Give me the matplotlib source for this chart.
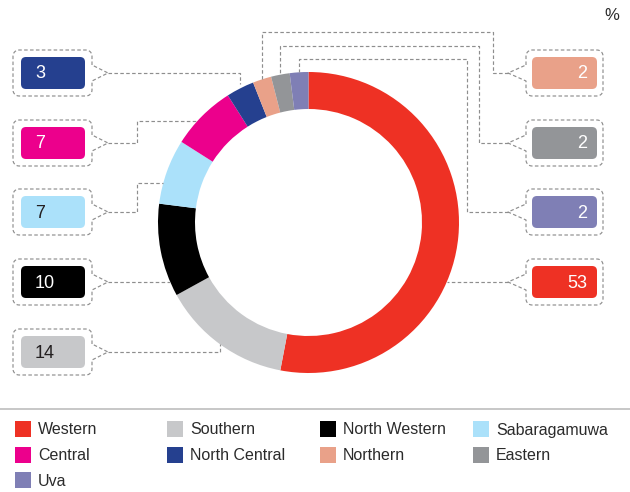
import numpy as np
import matplotlib
matplotlib.use("Agg")
import matplotlib.pyplot as plt
from matplotlib.patches import FancyBboxPatch, Rectangle

plt.rcParams["font.family"] = ["Liberation Sans", "DejaVu Sans"]

# Share by province, %
regions = ["Western", "Southern", "North Western", "Sabaragamuwa", "Central",
           "North Central", "Northern", "Eastern", "Uva"]
shares = [53, 14, 10, 7, 7, 3, 2, 2, 2]
colors = ["#EE3124", "#C7C8CA", "#000000", "#ABE1FA", "#EC008C",
          "#25408F", "#E9A189", "#939598", "#7F7FB5"]
text_colors = ["white", "#231F20", "white", "#231F20", "white",
               "white", "white", "white", "white"]

legend_order = ["Western", "Southern", "North Western", "Sabaragamuwa",
                "Central", "North Central", "Northern", "Eastern", "Uva"]

W, H = 630, 492
CX, CY, R, RING = 308.5, 222.5, 150.5, 37

fig = plt.figure(figsize=(W / 100, H / 100), dpi=100)
ax = fig.add_axes([0, 0, 1, 1])

# y axis runs downward, so counterclock=True turns clockwise on screen
ax.pie(shares, colors=colors, center=(CX, CY), radius=R, startangle=-90,
       counterclock=True, wedgeprops=dict(width=RING, linewidth=0))
ax.set_xlim(0, W)
ax.set_ylim(H, 0)
ax.set_aspect("auto")
ax.axis("off")

# midpoint angle of each wedge, measured clockwise from 12 o'clock
cum = np.cumsum([0] + shares)
mid_deg = (cum[:-1] + cum[1:]) / 2 / sum(shares) * 360


def mid_x(i):
    return CX + R * np.sin(np.radians(mid_deg[i]))


def ring_y(x, top=True):
    d = np.sqrt(R ** 2 - (x - CX) ** 2)
    return CY - d if top else CY + d


def ring_x(y, left=True):
    d = np.sqrt(R ** 2 - (y - CY) ** 2)
    return CX - d if left else CX + d


DASH = dict(color="#8E8E8E", lw=0.85, linestyle=(0, (3, 2)))
TXT = "#2B2B2B"


def callout(y, side, i):
    """Dashed bubble with a pointer plus the coloured value box."""
    if side == "left":
        x0, x1, tip = 13, 92, 108
        bx0, bx1 = 21, 85
    else:
        x0, x1, tip = 526, 603, 508
        bx0, bx1 = 532, 597
    y0, y1, rc = y - 23, y + 23, 6

    def arc(cx, cy, a0, a1):
        t = np.radians(np.linspace(a0, a1, 8))
        return list(zip(cx + rc * np.cos(t), cy + rc * np.sin(t)))

    # screen coords with y downward: angle 90 points down
    if side == "left":
        pts = [(x1, y - 8), (x1, y0 + rc)]
        pts += arc(x1 - rc, y0 + rc, 0, -90)
        pts += arc(x0 + rc, y0 + rc, -90, -180)
        pts += arc(x0 + rc, y1 - rc, 180, 90)
        pts += arc(x1 - rc, y1 - rc, 90, 0)
        pts += [(x1, y + 8), (tip, y), (x1, y - 8)]
    else:
        pts = [(x0, y - 8), (x0, y0 + rc)]
        pts += arc(x0 + rc, y0 + rc, 180, 270)
        pts += arc(x1 - rc, y0 + rc, 270, 360)
        pts += arc(x1 - rc, y1 - rc, 0, 90)
        pts += arc(x0 + rc, y1 - rc, 90, 180)
        pts += [(x0, y + 8), (tip, y), (x0, y - 8)]
    px, py = zip(*pts)
    ax.plot(px, py, **DASH)

    ax.add_patch(FancyBboxPatch((bx0, y - 16), bx1 - bx0, 32,
                                boxstyle="round,pad=0,rounding_size=5",
                                fc=colors[i], ec="none"))
    if side == "left":
        ax.text(35, y + 1, str(shares[i]), ha="left", va="center",
                fontsize=13, color=text_colors[i])
    else:
        ax.text(587, y + 1, str(shares[i]), ha="right", va="center",
                fontsize=13, color=text_colors[i])
    return tip


def leader(xs, ys):
    ax.plot(xs, ys, **DASH)


idx = {name: k for k, name in enumerate(regions)}

# left column
k = idx["North Central"]
t = callout(73, "left", k)
mx = mid_x(k)
leader([t, mx, mx], [73, 73, ring_y(mx) - 4])

k = idx["Central"]
t = callout(143, "left", k)
leader([t, 137, 137, ring_x(121)], [143, 143, 121, 121])

k = idx["Sabaragamuwa"]
t = callout(212, "left", k)
leader([t, 137, 137, ring_x(183)], [212, 212, 183, 183])

k = idx["North Western"]
t = callout(282, "left", k)
leader([t, ring_x(282)], [282, 282])

k = idx["Southern"]
t = callout(352, "left", k)
mx = mid_x(k)
leader([t, mx, mx], [352, 352, ring_y(mx, top=False)])

# right column
k = idx["Northern"]
t = callout(73, "right", k)
mx = mid_x(k)
leader([t, 493, 493, mx, mx], [73, 73, 32, 32, ring_y(mx)])

k = idx["Eastern"]
t = callout(143, "right", k)
mx = mid_x(k)
leader([t, 479, 479, mx, mx], [143, 143, 46, 46, ring_y(mx)])

k = idx["Uva"]
t = callout(212, "right", k)
mx = mid_x(k)
leader([t, 467, 467, mx, mx], [212, 212, 59, 59, ring_y(mx)])

k = idx["Western"]
t = callout(282, "right", k)
leader([t, ring_x(282, left=False)], [282, 282])

ax.text(612, 16, "%", ha="center", va="center", fontsize=12, color=TXT)

# legend
ax.plot([0, W], [409, 409], color="#BDBDBD", lw=1.2)
col_x = [15, 167, 320, 473]
row_y = [429, 455, 480]
for n, name in enumerate(legend_order):
    r, c = divmod(n, 4)
    k = idx[name]
    ax.add_patch(Rectangle((col_x[c], row_y[r] - 8), 16, 16,
                           fc=colors[k], ec="none"))
    ax.text(col_x[c] + 23, row_y[r] + 1, name, ha="left", va="center",
            fontsize=11.5, color=TXT)

fig.savefig("out.png", dpi=100)
